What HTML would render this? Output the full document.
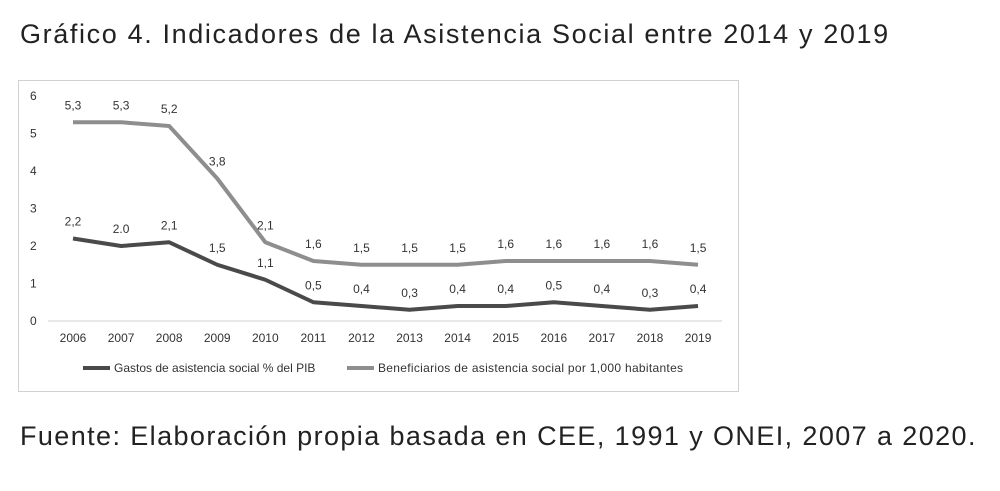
<!DOCTYPE html>
<html><head><meta charset="utf-8"><style>
body{margin:0;width:1000px;height:491px;background:#fff;font-family:"Liberation Sans",sans-serif;overflow:hidden}
#title{position:absolute;left:20px;top:19px;font-size:27px;letter-spacing:1.63px;color:#222}
#foot{position:absolute;left:20px;top:421px;font-size:27px;letter-spacing:1.4px;color:#222}
svg{position:absolute;left:0;top:0}
</style></head><body>
<div id="title">Gráfico 4. Indicadores de la Asistencia Social entre 2014 y 2019</div>
<div id="foot">Fuente: Elaboración propia basada en CEE, 1991 y ONEI, 2007 a 2020.</div>
<svg id="c" width="1000" height="491"></svg>
<script>
const years=["2006","2007","2008","2009","2010","2011","2012","2013","2014","2015","2016","2017","2018","2019"];
const gastos=[2.2,2.0,2.1,1.5,1.1,0.5,0.4,0.3,0.4,0.4,0.5,0.4,0.3,0.4];
const gastosLbl=["2,2","2.0","2,1","1,5","1,1","0,5","0,4","0,3","0,4","0,4","0,5","0,4","0,3","0,4"];
const benef=[5.3,5.3,5.2,3.8,2.1,1.6,1.5,1.5,1.5,1.6,1.6,1.6,1.6,1.5];
const benefLbl=["5,3","5,3","5,2","3,8","2,1","1,6","1,5","1,5","1,5","1,6","1,6","1,6","1,6","1,5"];
const yTicks=[0,1,2,3,4,5,6];
const svg=document.getElementById('c');const NS="http://www.w3.org/2000/svg";
function mk(t,a,p){const e=document.createElementNS(NS,t);for(const k in a)e.setAttribute(k,a[k]);(p||svg).appendChild(e);return e;}
const x=i=>73+i*48.08, y=v=>321-v*37.5;
const box=mk('rect',{x:18.5,y:80.5,width:720,height:311,fill:'none',stroke:'#d0d0d0'});


const ax=mk('line',{x1:48,x2:722,y1:321,y2:321,stroke:'#d0d0d0','stroke-width':1});


yTicks.forEach(v=>{const t=mk('text',{x:30,y:y(v)+4,'font-size':12,fill:'#333'});t.textContent=v;

});
years.forEach((yr,i)=>{const t=mk('text',{x:x(i),y:342,'font-size':12,fill:'#333','text-anchor':'middle'});t.textContent=yr;

});
function series(vals,lbls,col,name){
const p=mk('polyline',{points:vals.map((v,i)=>x(i)+','+y(v)).join(' '),fill:'none',stroke:col,'stroke-width':4,'stroke-linejoin':'round'});


vals.forEach((v,i)=>{const t=mk('text',{x:x(i),y:y(v)-13,'font-size':12,fill:'#333','text-anchor':'middle'});t.textContent=lbls[i];

});}
series(benef,benefLbl,'#8e8e8e','beneficiarios');
series(gastos,gastosLbl,'#4a4a4a','gastos');
function leg(x1,col,txt,name,ls){
const l=mk('line',{x1:x1,x2:x1+27,y1:368,y2:368,stroke:col,'stroke-width':4});


const t=mk('text',{x:x1+31,y:372,'font-size':12,fill:'#333','letter-spacing':ls});t.textContent=txt;

}
leg(83,'#4a4a4a','Gastos de asistencia social % del PIB','gastos',0);
leg(347,'#8e8e8e','Beneficiarios de asistencia social por 1,000 habitantes','beneficiarios',0.3);
</script>
</body></html>
